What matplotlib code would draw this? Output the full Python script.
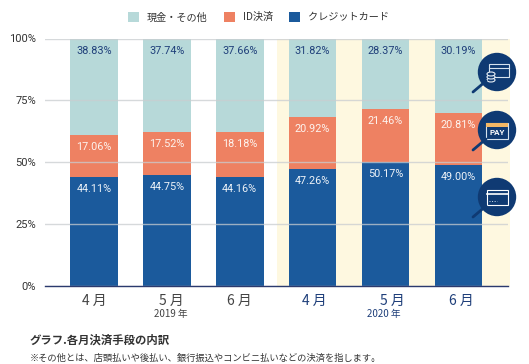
import matplotlib
matplotlib.use('Agg')
import matplotlib.pyplot as plt
from matplotlib.patches import Circle, Rectangle, Ellipse

plt.rcParams['font.family'] = ['Noto Sans CJK JP', 'DejaVu Sans']

months = ['4 月', '5 月', '6 月', '4 月', '5 月', '6 月']
years = ['2019 年', '2020 年']
credit = [44.11, 44.75, 44.16, 47.26, 50.17, 49.00]
id_pay = [17.06, 17.52, 18.18, 20.92, 21.46, 20.81]
cash = [38.83, 37.74, 37.66, 31.82, 28.37, 30.19]
y_ticks = [0, 25, 50, 75, 100]

BLUE = '#1b5a9c'
ORANGE = '#ee8162'
TEAL = '#b7d9d9'
NAVY = '#0f3a73'
INK = '#333333'
LABEL_NAVY = '#1f3f7a'

W, H = 529, 364
fig = plt.figure(figsize=(W / 100, H / 100), dpi=100)
ax = fig.add_axes([45 / W, 1 - 286 / H, 463 / W, 247.5 / H])
x = list(range(len(months)))

# yellow panel behind 2020
ax.axvspan(2.51, 5.707, ymin=0, ymax=1, color='#fef8e0', lw=0, zorder=0, clip_on=False)

b1 = ax.bar(x, credit, width=0.652, color=BLUE, zorder=2)
b2 = ax.bar(x, id_pay, width=0.652, bottom=credit, color=ORANGE, zorder=2)
bottom = [a + b for a, b in zip(credit, id_pay)]
b3 = ax.bar(x, cash, width=0.652, bottom=bottom, color=TEAL, zorder=2)

ax.set_xlim(-0.672, 5.68)
ax.set_ylim(0, 100)
ax.set_yticks(y_ticks)
ax.set_yticklabels([f'{v}%' for v in y_ticks], family='Roboto', fontsize=8, color=INK)
ax.tick_params(axis='y', length=0, pad=6.5)
ax.set_xticks([])
ax.grid(axis='y', color='#c9cdd0', lw=1, alpha=0.75, zorder=3)
ax.set_axisbelow(False)
for side in ['top', 'right', 'left']:
    ax.spines[side].set_visible(False)
ax.spines['bottom'].set_color('#2b3a6e')
ax.spines['bottom'].set_linewidth(1)
ax.spines['bottom'].set_zorder(4)

# value labels sit just under the top of each segment
for i in x:
    tops = [credit[i], bottom[i], 100]
    vals = [credit[i], id_pay[i], cash[i]]
    cols = ['#eef3f8', '#fdf3ee', LABEL_NAVY]
    for top, v, c in zip(tops, vals, cols):
        ax.annotate(f'{v:.2f}%', (i, top), xytext=(0, -8.7), textcoords='offset points',
                    ha='center', va='center', family='Roboto', fontsize=7.8, color=c, zorder=5)

# month labels, the middle ones are a bit off centre in the original
shift = [0, 3, 0, 1, 5, 2]
for i, m in enumerate(months):
    c = '#444444' if i < 3 else LABEL_NAVY
    ax.annotate(m, (i, 0), xytext=(shift[i], -10.8), textcoords='offset points',
                ha='center', va='center', fontsize=10, color=c, annotation_clip=False)
ax.annotate(years[0], (1, 0), xytext=(3, -20.5), textcoords='offset points', ha='center',
            va='center', fontsize=7, color='#444444', annotation_clip=False)
ax.annotate(years[1], (4, 0), xytext=(-1, -20.5), textcoords='offset points', ha='center',
            va='center', fontsize=7, color=LABEL_NAVY, annotation_clip=False)

leg = ax.legend([b3, b2, b1], ['現金・その他', 'ID決済', 'クレジットカード'], ncol=3, frameon=False,
                loc='center', bbox_to_anchor=(0.461, 1.086), fontsize=7.3, labelcolor=INK,
                handlelength=1.1, handleheight=1.1, handletextpad=0.75, columnspacing=1.6,
                borderpad=0, borderaxespad=0)

# overlay in pixel coordinates for the badges and captions
ov = fig.add_axes([0, 0, 1, 1], facecolor='none')
ov.set_xlim(0, W)
ov.set_ylim(H, 0)
ov.axis('off')
ov.set_zorder(10)

for cy in [72, 130, 197]:
    ov.plot([473, 486], [cy + 20, cy + 9], color=NAVY, lw=2, solid_capstyle='round')
    ov.add_patch(Circle((497, cy), 19.2, color=NAVY, lw=0))

# cash + cards
ov.add_patch(Rectangle((489, 64), 20, 13, fc='none', ec='#d7e3ee', lw=0.8))
ov.plot([489, 509], [67.5, 67.5], color='#d7e3ee', lw=0.8)
for yy in [80, 77, 74]:
    ov.add_patch(Ellipse((491, yy), 8, 4, fc=NAVY, ec='#e6edf4', lw=0.8))
# PAY
ov.add_patch(Rectangle((486, 123), 22, 16, fc='none', ec='#d7e3ee', lw=0.8))
ov.add_patch(Rectangle((486, 123), 22, 3.5, fc='#f3b765', lw=0))
ov.text(497, 132.5, 'PAY', ha='center', va='center', color='white', fontsize=5.8,
        fontweight='bold', family='Roboto')
# card
ov.add_patch(Rectangle((486.5, 189.5), 21.5, 15, fc='none', ec='white', lw=0.8))
ov.plot([486.5, 508], [193.5, 193.5], color='white', lw=1.2)
ov.plot([489, 497], [200.5, 200.5], color='#d7e3ee', lw=0.7, ls=':')

ov.text(30, 340, 'グラフ.各月決済手段の内訳', fontsize=8.2, fontweight='bold', color=INK, va='center')
ov.text(30, 358, '※その他とは、店頭払いや後払い、銀行振込やコンビニ払いなどの決済を指します。', fontsize=6.7,
        color=INK, va='center')

plt.savefig('out.png', dpi=100)
plt.close()
